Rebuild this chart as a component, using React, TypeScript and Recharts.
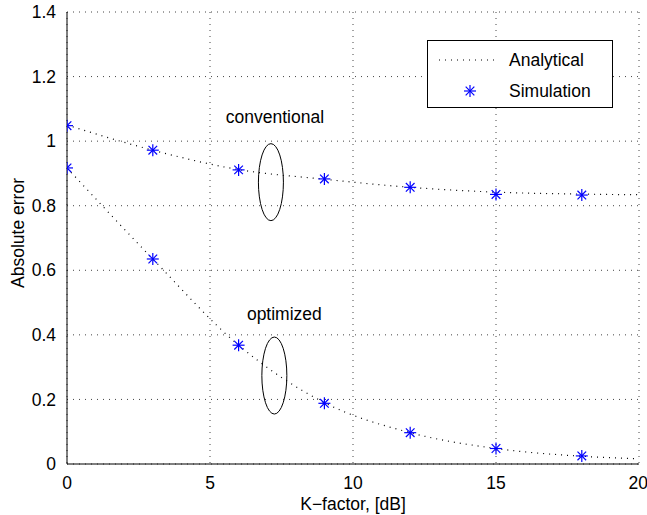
import {
  ComposedChart,
  Line,
  Scatter,
  XAxis,
  YAxis,
  CartesianGrid,
  ReferenceDot,
} from "recharts";

// K-factor grid (dB)
const kSim = [0, 3, 6, 9, 12, 15, 18];
const kAnalytic = [0, 3, 6, 9, 12, 15, 18, 20];

// conventional
const convAnalytic = [1.05, 0.972, 0.912, 0.882, 0.857, 0.842, 0.836, 0.834];
const convSim = [1.048, 0.972, 0.911, 0.883, 0.857, 0.835, 0.833];

// optimized
const optAnalytic = [0.917, 0.635, 0.368, 0.19, 0.097, 0.048, 0.024, 0.016];
const optSim = [0.917, 0.635, 0.368, 0.188, 0.097, 0.048, 0.025];

const xTicks = [0, 5, 10, 15, 20];
const yTicks = [0, 0.2, 0.4, 0.6, 0.8, 1, 1.2, 1.4];

const FONT = "'Liberation Sans', Arial, Helvetica, sans-serif";
const FS = 17.5;
const BLUE = "#0000ff";

const toRows = (ks: number[], vs: number[]) => ks.map((k, i) => ({ k, v: vs[i] }));

const convLine = toRows(kAnalytic, convAnalytic);
const optLine = toRows(kAnalytic, optAnalytic);
const convPts = toRows(kSim, convSim);
const optPts = toRows(kSim, optSim);

function Star(props: any) {
  const { cx, cy } = props;
  if (cx == null || cy == null) return null;
  const r = 6;
  const d = r * 0.72;
  return (
    <g stroke={BLUE} strokeWidth={1.2}>
      <line x1={cx - r} y1={cy} x2={cx + r} y2={cy} />
      <line x1={cx} y1={cy - r} x2={cx} y2={cy + r} />
      <line x1={cx - d} y1={cy - d} x2={cx + d} y2={cy + d} />
      <line x1={cx - d} y1={cy + d} x2={cx + d} y2={cy - d} />
    </g>
  );
}

function Ellipse(props: any) {
  return <ellipse cx={props.cx} cy={props.cy} rx={12.5} ry={38.5} fill="none" stroke="#000" strokeWidth={1} />;
}

const note = (txt: string) => (props: any) =>
  (
    <text x={props.cx} y={props.cy} textAnchor="middle" dominantBaseline="central" fontFamily={FONT} fontSize={FS} fill="#000">
      {txt}
    </text>
  );

function LegendBox() {
  return (
    <div
      style={{
        position: "absolute",
        left: 427,
        top: 40,
        width: 186,
        height: 68,
        border: "1px solid #000",
        background: "#fff",
        boxSizing: "border-box",
      }}
    >
      <svg width={186} height={68} style={{ position: "absolute", left: -1, top: -1 }}>
        <line x1={12} y1={20} x2={70} y2={20} stroke="#000" strokeDasharray="1 5" strokeWidth={1.2} />
        <Star cx={43} cy={51} />
        <text x={82} y={20} dominantBaseline="central" fontFamily={FONT} fontSize={FS}>
          Analytical
        </text>
        <text x={82} y={51} dominantBaseline="central" fontFamily={FONT} fontSize={FS}>
          Simulation
        </text>
      </svg>
    </div>
  );
}

export default function App() {
  return (
    <div style={{ position: "absolute", left: 0, top: 0, width: 647, height: 515, background: "#fff" }}>
      <ComposedChart
        width={647}
        height={515}
        margin={{ top: 12, right: 8, bottom: 21, left: 10 }}
        style={{ fontFamily: FONT }}
      >
        <CartesianGrid stroke="#444" strokeDasharray="1 5" />
        <XAxis
          dataKey="k"
          type="number"
          domain={[0, 20]}
          ticks={xTicks}
          allowDataOverflow
          height={30}
          tickLine={false}
          tickMargin={7}
          stroke="#000"
          tick={{ fill: "#000", fontSize: FS, fontFamily: FONT }}
          label={{
            content: () => (
              <text x={353} y={504} textAnchor="middle" dominantBaseline="central" fontFamily={FONT} fontSize={FS} fill="#000">
                K−factor, [dB]
              </text>
            ),
          }}
        />
        <XAxis xAxisId="top" orientation="top" type="number" domain={[0, 20]} height={0} tick={false} tickLine={false} stroke="#000" />
        <YAxis
          type="number"
          domain={[0, 1.4]}
          ticks={yTicks}
          width={57}
          tickLine={false}
          tickMargin={5}
          stroke="#000"
          tick={{ fill: "#000", fontSize: FS, fontFamily: FONT }}
          label={{
            content: () => (
              <text
                x={18}
                y={233}
                transform="rotate(-90 18 233)"
                textAnchor="middle"
                dominantBaseline="central"
                fontFamily={FONT}
                fontSize={FS}
                fill="#000"
              >
                Absolute error
              </text>
            ),
          }}
        />
        <YAxis yAxisId="right" orientation="right" type="number" domain={[0, 1.4]} width={0} tick={false} tickLine={false} stroke="#000" />

        <Line data={convLine} dataKey="v" name="Analytical" type="monotone" stroke="#000" strokeWidth={1.2} strokeDasharray="1 5" dot={false} isAnimationActive={false} />
        <Line data={optLine} dataKey="v" name="Analytical " type="monotone" stroke="#000" strokeWidth={1.2} strokeDasharray="1 5" dot={false} isAnimationActive={false} />
        <Scatter data={convPts} dataKey="v" name="Simulation" shape={<Star />} isAnimationActive={false} />
        <Scatter data={optPts} dataKey="v" name="Simulation " shape={<Star />} isAnimationActive={false} />

        <ReferenceDot x={7.13} y={0.873} shape={<Ellipse />} />
        <ReferenceDot x={7.25} y={0.274} shape={<Ellipse />} />
        <ReferenceDot x={7.27} y={1.075} shape={note("conventional")} />
        <ReferenceDot x={7.6} y={0.465} shape={note("optimized")} />
      </ComposedChart>
      <LegendBox />
    </div>
  );
}
